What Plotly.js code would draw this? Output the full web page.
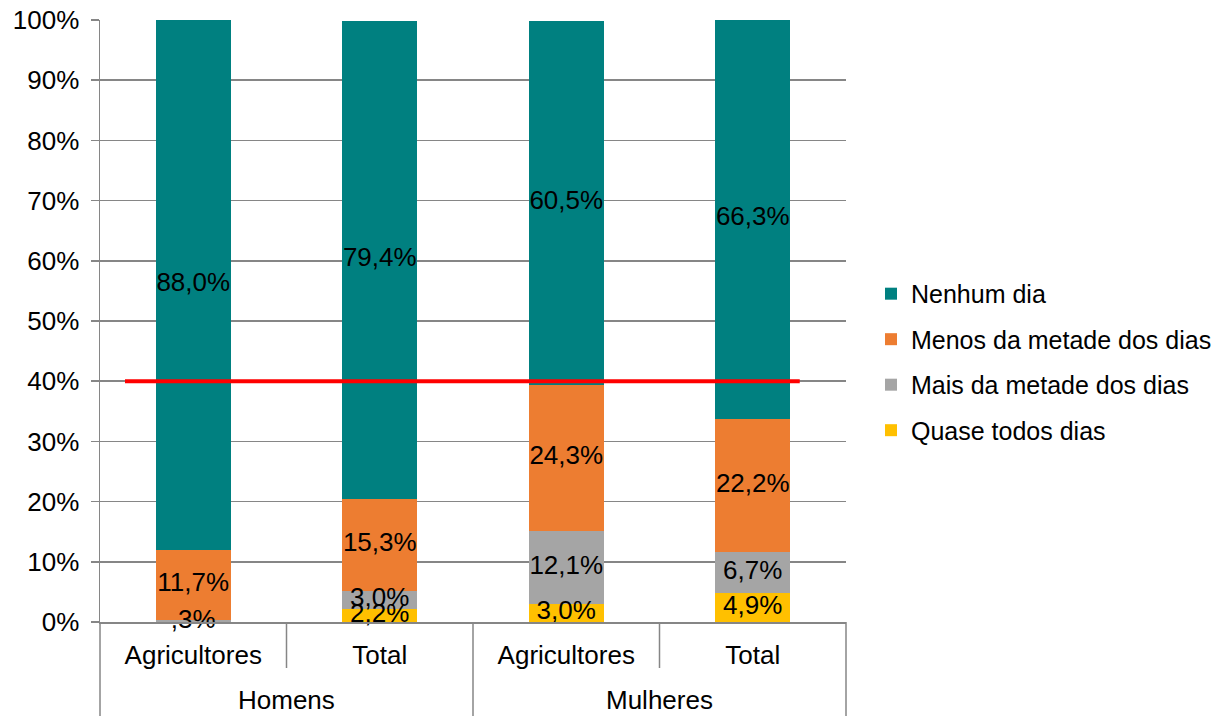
<!DOCTYPE html>
<html>
<head>
<meta charset="utf-8">
<script src="https://cdn.plot.ly/plotly-3.0.1.min.js"></script>
<style>
  html, body { margin: 0; padding: 0; background: #ffffff; }
  #chart { width: 1229px; height: 716px; }
</style>
</head>
<body>
<div id="chart"></div>
<script>
// ---- data ----
const groups = ["Homens", "Homens", "Mulheres", "Mulheres"];
const categories = ["Agricultores", "Total", "Agricultores", "Total"];
const groupNames = ["Homens", "Mulheres"];
const quaseTodos = [0, 2.2, 3.0, 4.9];
const maisMetade = [0.3, 3.0, 12.1, 6.7];
const menosMetade = [11.7, 15.3, 24.3, 22.2];
const nenhumDia = [88.0, 79.4, 60.5, 66.3];
const seriesNames = ["Quase todos dias", "Mais da metade dos dias", "Menos da metade dos dias", "Nenhum dia"];
const seriesColors = ["#FFC000", "#A5A5A5", "#ED7D31", "#008080"];
const yTicks = [0, 10, 20, 30, 40, 50, 60, 70, 80, 90, 100];
const referenceLevel = 40;

const FONT = "'Liberation Sans', Arial, sans-serif";
const FS = 26;
const AXIS_GRAY = "#868686";

function fmt(v) {
  if (!v) return "";
  let s = v.toFixed(1).replace(".", ",");
  if (s.startsWith("0,")) s = s.slice(1);
  return s + "%";
}

const seriesValues = [quaseTodos, maisMetade, menosMetade, nenhumDia];
// unique category ids (group + category) so repeated names stay separate
const xIds = categories.map((c, j) => groups[j] + " · " + c);

const traces = seriesValues.map((vals, i) => ({
  type: "bar",
  name: seriesNames[i],
  x: xIds,
  y: vals,
  width: 0.4,
  marker: { color: seriesColors[i], line: { width: 0 } },
  hoverinfo: "skip",
  legendgroup: "g" + i,
  legendrank: seriesValues.length - i
}));

// label trace placed at the middle of each stacked segment
const lx = [], ly = [], lt = [];
const base = xIds.map(() => 0);
seriesValues.forEach(vals => {
  vals.forEach((v, j) => {
    if (v) {
      lx.push(xIds[j]);
      ly.push(base[j] + v / 2);
      lt.push(fmt(v));
    }
    base[j] += v;
  });
});
traces.push({
  type: "scatter",
  mode: "text",
  x: lx,
  y: ly,
  text: lt,
  textposition: "middle center",
  textfont: { family: FONT, size: FS, color: "#000000" },
  cliponaxis: false,
  showlegend: false,
  hoverinfo: "skip"
});

const plotH = 716 - 20 - 94;
const shapes = [];
// outer group dividers (full depth) and inner category separators
const nCat = categories.length;
for (let k = 1; k <= nCat; k++) {
  const isGroupEdge = k === nCat || groups[k] !== groups[k - 1];
  shapes.push({
    type: "line", xref: "paper", yref: "paper",
    x0: k / nCat, x1: k / nCat, y0: 0, y1: isGroupEdge ? -94 / plotH : -46 / plotH,
    line: { color: AXIS_GRAY, width: 1.5 }
  });
}
shapes.push({
  type: "line", xref: "paper", yref: "paper",
  x0: 0, x1: 0, y0: 0, y1: -94 / plotH,
  line: { color: AXIS_GRAY, width: 1.5 }
});
shapes.push({
  type: "line", xref: "paper", yref: "y", x0: 0.0335, x1: 0.938,
  y0: referenceLevel, y1: referenceLevel,
  line: { color: "#FF0000", width: 4 }, layer: "above"
});

// group labels centred under their categories
const annotations = groupNames.map(g => {
  const idx = groups.map((gg, j) => gg === g ? j : -1).filter(j => j >= 0);
  const centre = (idx[0] + idx[idx.length - 1] + 1) / 2 / nCat;
  return {
    xref: "paper", yref: "paper", x: centre, y: -(700 - 622) / plotH,
    xanchor: "center", yanchor: "middle", showarrow: false,
    text: g, font: { family: FONT, size: FS, color: "#000000" }
  };
});

const layout = {
  width: 1229,
  height: 716,
  margin: { l: 100, r: 383, t: 20, b: 94, pad: 0 },
  paper_bgcolor: "#ffffff",
  plot_bgcolor: "#ffffff",
  barmode: "stack",
  showlegend: true,
  font: { family: FONT, size: FS, color: "#000000" },
  xaxis: {
    type: "category",
    tickvals: xIds,
    ticktext: categories,
    showgrid: false,
    showline: true,
    linecolor: AXIS_GRAY,
    linewidth: 1.5,
    ticks: "",
    ticklabelstandoff: 9,
    tickfont: { family: FONT, size: FS, color: "#000000" },
    automargin: false,
    fixedrange: true
  },
  yaxis: {
    range: [0, 100],
    tickvals: yTicks,
    ticktext: yTicks.map(v => v + "%"),
    showgrid: true,
    gridcolor: AXIS_GRAY,
    gridwidth: 1.5,
    showline: true,
    linecolor: AXIS_GRAY,
    linewidth: 1.5,
    ticks: "outside",
    ticklen: 8,
    tickcolor: AXIS_GRAY,
    tickwidth: 1.5,
    ticklabelstandoff: 6,
    zeroline: false,
    tickfont: { family: FONT, size: FS, color: "#000000" },
    automargin: false,
    fixedrange: true
  },
  legend: {
    x: 1.0335,
    xanchor: "left",
    y: 0.432,
    yanchor: "middle",
    traceorder: "grouped",
    tracegroupgap: 10,
    font: { family: FONT, size: 25, color: "#000000" },
    bgcolor: "rgba(0,0,0,0)",
    borderwidth: 0
  },
  shapes: shapes,
  annotations: annotations
};

Plotly.newPlot("chart", traces, layout, { displayModeBar: false, staticPlot: true });
</script>
</body>
</html>
